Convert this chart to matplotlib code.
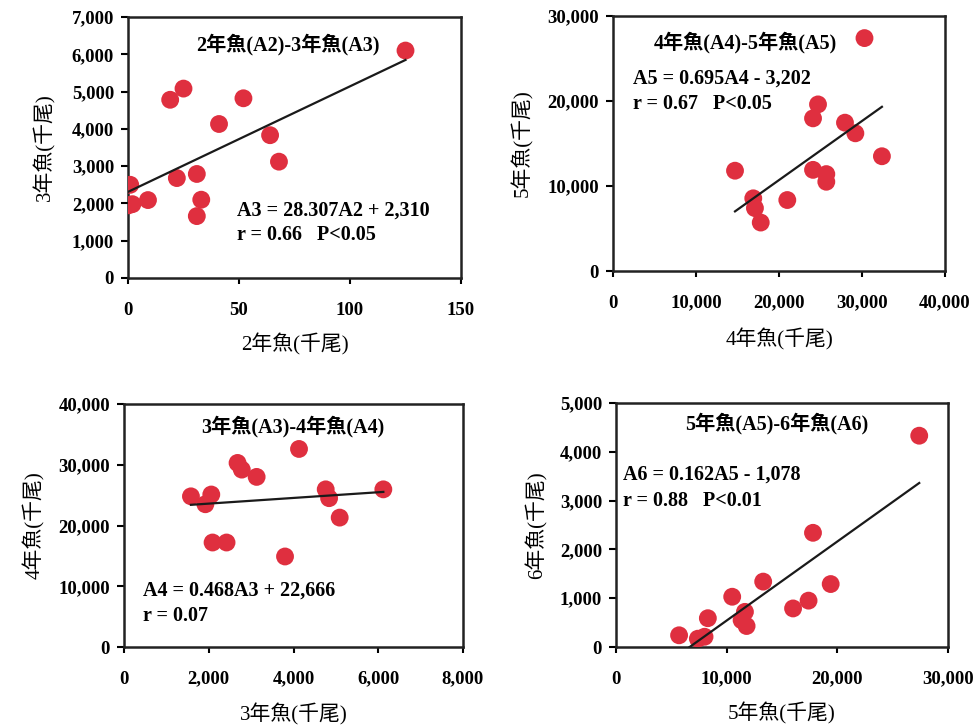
import matplotlib.pyplot as plt
import numpy as np
from matplotlib.ticker import FuncFormatter

plt.rcParams['font.family'] = ['Liberation Serif', 'Noto Sans CJK TC']
plt.rcParams['font.weight'] = 'bold'

# data (thousand fish)
a2_p1 = [125, 25, 19, 52, 41, 64, 68, 31, 22, 33, 31, 9, 1, 0.3, 2]
a3_p1 = [6100, 5080, 4780, 4820, 4130, 3830, 3120, 2790, 2680, 2100, 1660, 2090, 2500, 1950, 1980]

a4_p2 = [30300, 24700, 24100, 27950, 29200, 32400, 14700, 24100, 25700, 25700, 21000, 16900, 17100, 17800]
a5_p2 = [27400, 19600, 17960, 17450, 16200, 13500, 11800, 11900, 11400, 10500, 8350, 8550, 7400, 5700]

a3_p3 = [4130, 2680, 2780, 3130, 6120, 4760, 4840, 5090, 1580, 2060, 1920, 2090, 2420, 3800]
a4_p3 = [32600, 30300, 29200, 28000, 25950, 25950, 24500, 21300, 24800, 25100, 23500, 17200, 17200, 14900]

a5_p4 = [27400, 17800, 13300, 19400, 10500, 17400, 16000, 11650, 8300, 11350, 11800, 5700, 7400, 8000]
a6_p4 = [4330, 2340, 1340, 1290, 1030, 950, 790, 720, 590, 550, 430, 240, 170, 210]

panels = [
    dict(x=a2_p1, y=a3_p1, k=28.307, b=2310, xlim=150, xstep=50, ylim=7000, ystep=1000,
         rect=[128, 17, 461, 278], xlab='2年魚(千尾)', ylab='3年魚(千尾)',
         title='2年魚(A2)-3年魚(A3)', eq='A3 = 28.307A2 + 2,310', r='r = 0.66   P<0.05',
         tpos=(0.48, 0.893), epos=(0.327, 0.26), rpos=(0.327, 0.165), xoff=55, yoff=73),
    dict(x=a4_p2, y=a5_p2, k=0.695, b=-3202, xlim=40000, xstep=10000, ylim=30000, ystep=10000,
         rect=[613, 16, 945, 271], xlab='4年魚(千尾)', ylab='5年魚(千尾)',
         title='4年魚(A4)-5年魚(A5)', eq='A5 = 0.695A4 - 3,202', r='r = 0.67   P<0.05',
         tpos=(0.40, 0.894), epos=(0.06, 0.753), rpos=(0.06, 0.655), xoff=57, yoff=80),
    dict(x=a3_p3, y=a4_p3, k=0.468, b=22666, xlim=8000, xstep=2000, ylim=40000, ystep=10000,
         rect=[124, 404, 463, 647], xlab='3年魚(千尾)', ylab='4年魚(千尾)',
         title='3年魚(A3)-4年魚(A4)', eq='A4 = 0.468A3 + 22,666', r='r = 0.07',
         tpos=(0.497, 0.907), epos=(0.056, 0.232), rpos=(0.056, 0.128), xoff=56, yoff=79),
    dict(x=a5_p4, y=a6_p4, k=0.162, b=-1078, xlim=30000, xstep=10000, ylim=5000, ystep=1000,
         rect=[616, 403, 948, 647], xlab='5年魚(千尾)', ylab='6年魚(千尾)',
         title='5年魚(A5)-6年魚(A6)', eq='A6 = 0.162A5 - 1,078', r='r = 0.88   P<0.01',
         tpos=(0.484, 0.917), epos=(0.022, 0.705), rpos=(0.022, 0.60), xoff=55, yoff=68),
]

W, H = 975, 725
fig = plt.figure(figsize=(9.75, 7.25), dpi=100)
fmt = FuncFormatter(lambda v, p: '{:,.0f}'.format(v))

for p in panels:
    l, t, r, b = p['rect']
    ax = fig.add_axes([l / W, (H - b) / H, (r - l) / W, (b - t) / H])
    wpx, hpx = r - l, b - t

    ax.scatter(p['x'], p['y'], s=165, color='#DF2F3F', edgecolors='none', zorder=3)
    xs = np.array([min(p['x']), max(p['x'])])
    ax.plot(xs, p['k'] * xs + p['b'], color='#1a1a1a', lw=1.6, zorder=4)

    ax.set_xlim(0, p['xlim'])
    ax.set_ylim(0, p['ylim'])
    ax.set_xticks(np.arange(0, p['xlim'] + 1, p['xstep']))
    ax.set_yticks(np.arange(0, p['ylim'] + 1, p['ystep']))
    ax.xaxis.set_major_formatter(fmt)
    ax.yaxis.set_major_formatter(fmt)
    ax.tick_params(axis='x', direction='out', length=4, width=1.5, pad=13, labelsize=13.5)
    ax.tick_params(axis='y', direction='out', length=5, width=1.5, pad=5, labelsize=13.5)
    for s in ax.spines.values():
        s.set_linewidth(1.8)
        s.set_color('#222222')

    ax.set_xlabel(p['xlab'], fontsize=15, fontweight='normal')
    ax.set_ylabel(p['ylab'], fontsize=15, fontweight='normal')
    ax.xaxis.set_label_coords(0.5, -p['xoff'] / hpx)
    ax.yaxis.set_label_coords(-p['yoff'] / wpx, 0.5)

    ax.text(p['tpos'][0], p['tpos'][1], p['title'], transform=ax.transAxes,
            ha='center', va='center', fontsize=14.5)
    ax.text(p['epos'][0], p['epos'][1], p['eq'], transform=ax.transAxes,
            ha='left', va='center', fontsize=14.5)
    ax.text(p['rpos'][0], p['rpos'][1], p['r'], transform=ax.transAxes,
            ha='left', va='center', fontsize=14.5)

fig.savefig('out.png', dpi=100)
